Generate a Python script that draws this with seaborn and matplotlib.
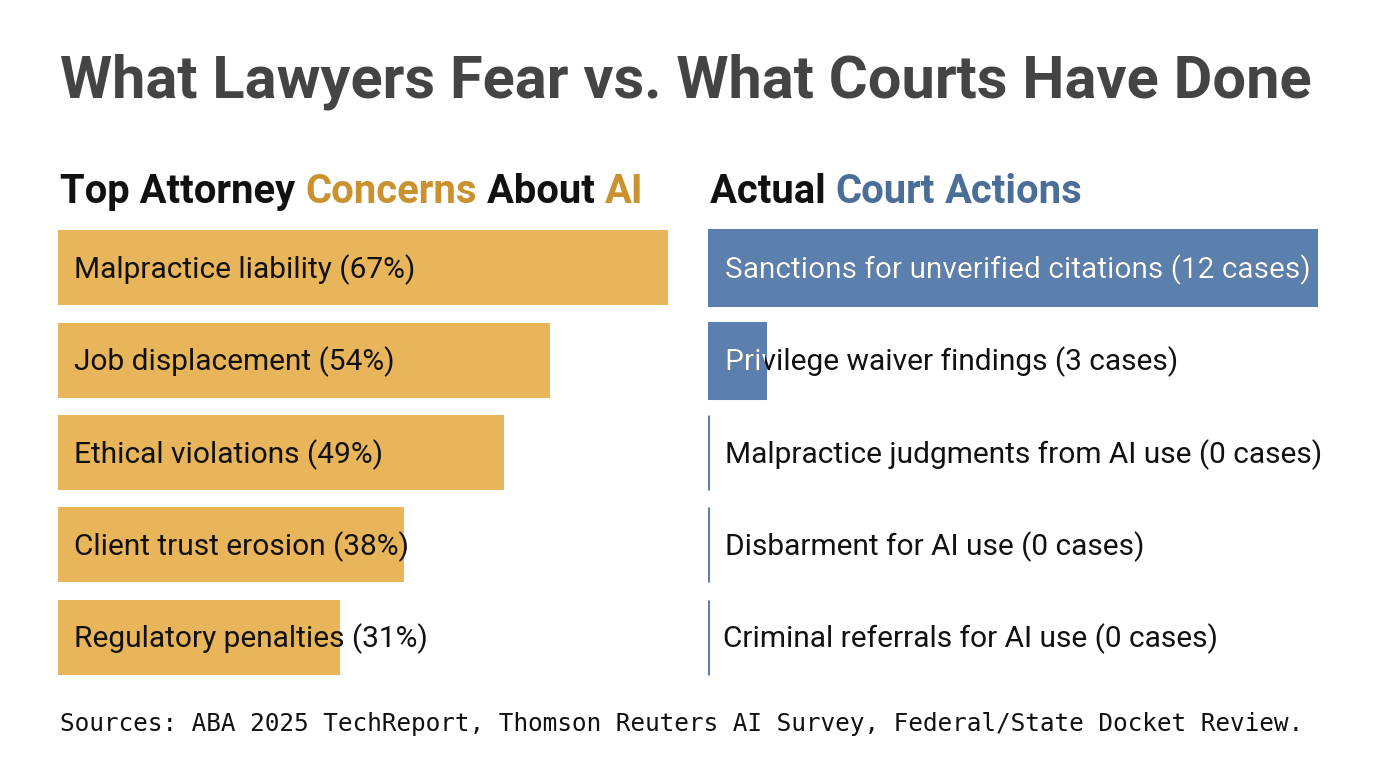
import matplotlib
matplotlib.use("Agg")
import matplotlib.pyplot as plt
import seaborn as sns
import pandas as pd

# ---------------- data ----------------
concern_labels = ["Malpractice liability", "Job displacement", "Ethical violations",
                  "Client trust erosion", "Regulatory penalties"]
concern_pct = [67, 54, 49, 38, 31]

action_labels = ["Sanctions for unverified citations", "Privilege waiver findings",
                 "Malpractice judgments from AI use", "Disbarment for AI use",
                 "Criminal referrals for AI use"]
action_cases = [12, 3, 0, 0, 0]
# bar lengths as drawn in the picture (on a 0-12 scale)
action_bar_len = [12, 1.13, 0, 0, 0]

title = "What Lawyers Fear vs. What Courts Have Done"
left_sub = [("Top Attorney ", "k"), ("Concerns", "o"), (" About ", "k"), ("AI", "o")]
right_sub = [("Actual ", "k"), ("Court", "b"), (" ", "k"), ("Actions", "b")]
source = "Sources: ABA 2025 TechReport, Thomson Reuters AI Survey, Federal/State Docket Review."

ORANGE = "#E8B55A"
ORANGE_T = "#C9922E"
BLUE = "#5B80AD"
BLUE_T = "#4A6E98"
DARK = "#111111"
TITLE_C = "#444444"

sns.set_theme(style="white")
plt.rcParams["font.family"] = ["Roboto", "DejaVu Sans"]

W, H = 1376, 768
fig = plt.figure(figsize=(W / 100, H / 100), dpi=100)
fig.patch.set_facecolor("white")

def px_axes(x0, y0, x1, y1):
    return fig.add_axes([x0 / W, 1 - y1 / H, (x1 - x0) / W, (y1 - y0) / H])

top, bot = 221.5, 683.5
axL = px_axes(58, top, 668, bot)
axR = px_axes(708, top, 1318, bot)

dfL = pd.DataFrame({"label": concern_labels, "value": concern_pct})
dfR = pd.DataFrame({"label": action_labels, "value": action_bar_len})

sns.barplot(data=dfL, x="value", y="label", orient="h", color=ORANGE,
            saturation=1, width=0.81, ax=axL, edgecolor="none")
sns.barplot(data=dfR, x="value", y="label", orient="h", color=BLUE,
            saturation=1, width=0.81, ax=axR, edgecolor=BLUE, linewidth=2.2)

axL.set_xlim(0, max(concern_pct))
axR.set_xlim(0, max(action_cases))
for ax in (axL, axR):
    ax.set_ylim(4.5, -0.5)
    ax.axis("off")

FS = 21.5
DY = -1.2
for i, (lab, v) in enumerate(zip(concern_labels, concern_pct)):
    axL.annotate(f"{lab} ({v}%)", xy=(0, i), xytext=(11.5, DY),
                 textcoords="offset points", va="center", ha="left",
                 fontsize=FS, color=DARK)

for i, (lab, v, p) in enumerate(zip(action_labels, action_cases, axR.patches)):
    s = f"{lab} ({v} cases)"
    off = 12 if i < 4 else 10.5
    axR.annotate(s, xy=(0, i), xytext=(off, DY), textcoords="offset points",
                 va="center", ha="left", fontsize=FS, color=DARK)
    t = axR.annotate(s, xy=(0, i), xytext=(off, DY), textcoords="offset points",
                     va="center", ha="left", fontsize=FS, color="white")
    t.set_clip_on(True)
    t.set_clip_path(p)

# title
fig.text(60 / W, 1 - 97 / H, title, fontsize=42.9, fontweight="bold",
         color=TITLE_C, va="baseline", ha="left")

renderer = fig.canvas.get_renderer()
cmap = {"k": DARK, "o": ORANGE_T, "b": BLUE_T}

def width_px(s, **kw):
    t = fig.text(0, 0, s + "x", **kw)
    t2 = fig.text(0, 0, "x", **kw)
    w = t.get_window_extent(renderer).width - t2.get_window_extent(renderer).width
    t.remove(); t2.remove()
    return w

def multi(x0, yb, pieces, fs):
    kw = dict(fontsize=fs, fontweight="bold")
    prefix = ""
    for s, c in pieces:
        x = x0 + (width_px(prefix, **kw) if prefix else 0)
        fig.text(x / W, 1 - yb / H, s, color=cmap[c], va="baseline", ha="left", **kw)
        prefix += s

multi(60, 203, left_sub, 28.8)
multi(710, 203, right_sub, 28.8)

fig.text(60 / W, 1 - 731 / H, source, fontsize=17.55, family="DejaVu Sans Mono",
         color=DARK, va="baseline", ha="left")

fig.savefig("out.png", dpi=100, facecolor="white")
